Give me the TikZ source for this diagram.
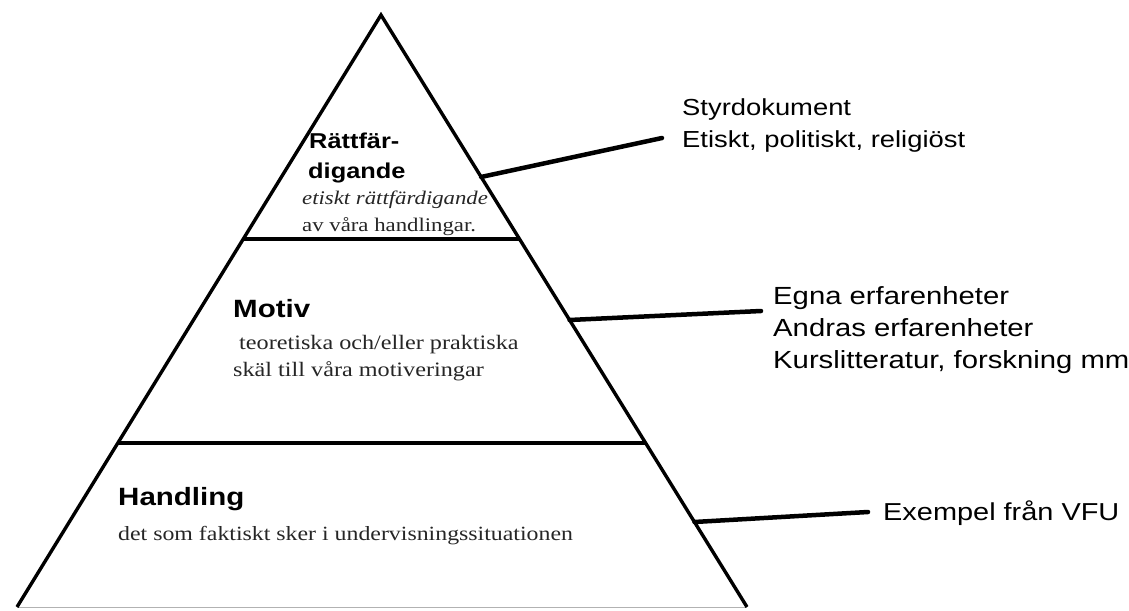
\documentclass[tikz,border=0pt]{standalone}
\usepackage{fontspec}
\usetikzlibrary{calc}
\newfontfamily\labsans[FakeStretch=1.18]{Liberation Sans}
\newfontfamily\labserif[FakeStretch=1.18]{Liberation Serif}
\tikzset{
  side/.style={line width=3.4pt, line join=miter},
  divider/.style={line width=3.2pt},
  link/.style={line width=4.5pt, line cap=round},
  rtext/.style={anchor=base west, inner sep=0pt, font=\labsans\fontsize{24}{28}\selectfont},
  headA/.style={anchor=base west, inner sep=0pt, font=\labsans\bfseries\fontsize{21.5}{24}\selectfont},
  headB/.style={anchor=base west, inner sep=0pt, font=\labsans\bfseries\fontsize{25}{28}\selectfont},
  bodyA/.style={anchor=base west, inner sep=0pt, text=black!85, font=\labserif\fontsize{19.3}{22}\selectfont},
  bodyB/.style={anchor=base west, inner sep=0pt, text=black!85, font=\labserif\fontsize{20.5}{24}\selectfont},
}
\begin{document}
\begin{tikzpicture}[x=1pt,y=-1pt]
\useasboundingbox (0,0) rectangle (1129,610);
\fill[white] (0,0) rectangle (1129,610);
% pyramid
\coordinate (apex) at (381,15);
\coordinate (bl) at (17,607);
\coordinate (br) at (747,607);
\draw[gray!60, line width=1pt] (bl) -- (br);
\draw[side] (bl) -- (apex) -- (br);
% dividers
\coordinate (d1l) at ($(apex)!0.3784!(bl)$);
\coordinate (d1r) at ($(apex)!0.3784!(br)$);
\coordinate (d2l) at ($(apex)!0.7230!(bl)$);
\coordinate (d2r) at ($(apex)!0.7230!(br)$);
\draw[divider] (d1l) -- (d1r);
\draw[divider] (d2l) -- (d2r);
% connectors
\coordinate (c1s) at ($(apex)!0.2736!(br)$);
\coordinate (c1e) at (662,138);
\coordinate (c2s) at ($(apex)!0.5152!(br)$);
\coordinate (c2e) at (761,311);
\coordinate (c3s) at ($(apex)!0.8564!(br)$);
\coordinate (c3e) at (868,512);
\draw[link] (c1s) -- (c1e);
\draw[link] (c2s) -- (c2e);
\draw[link] (c3s) -- (c3e);
% right texts
\node[rtext, font=\labsans\fontsize{23.2}{28}\selectfont] (r1a) at (682,115) {Styrdokument};
\node[rtext, font=\labsans\fontsize{23.2}{28}\selectfont] (r1b) at (682,147) {Etiskt, politiskt, religiöst};
\node[rtext, font=\labsans\fontsize{24.8}{28}\selectfont] (r2a) at (773,304) {Egna erfarenheter};
\node[rtext, font=\labsans\fontsize{24.8}{28}\selectfont] (r2b) at (773,336) {Andras erfarenheter};
\node[rtext, font=\labsans\fontsize{24.8}{28}\selectfont] (r2c) at (773,368) {Kurslitteratur, forskning mm};
\node[rtext, font=\labsans\fontsize{24.5}{28}\selectfont] (r3a) at (883,520) {Exempel från VFU};
% top section
\node[headA] (t1) at (309,148) {Rättfär-};
\node[headA] (t2) at (308,178) {digande};
\node[bodyA, font=\labserif\itshape\fontsize{19.3}{22}\selectfont] (t3) at (302,204) {etiskt rättfärdigande};
\node[bodyA] (t4) at (302,231) {av våra handlingar.};
% middle section
\node[headB] (m1) at (233,317) {Motiv};
\node[bodyB] (m2) at (239,349) {teoretiska och/eller praktiska};
\node[bodyB] (m3) at (233,376) {skäl till våra motiveringar};
% bottom section
\node[headB] (b1) at (118,505) {Handling};
\node[bodyB, font=\labserif\fontsize{20.2}{24}\selectfont] (b2) at (118,540) {det som faktiskt sker i undervisningssituationen};
\end{tikzpicture}
\end{document}
